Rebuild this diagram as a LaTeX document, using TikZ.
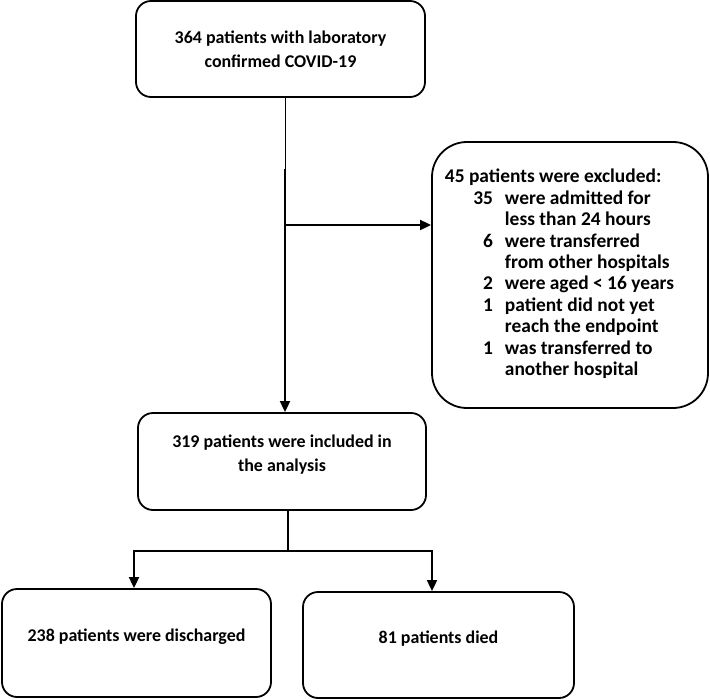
\documentclass[tikz,border=0pt]{standalone}
\usepackage{fontspec}
\setmainfont{Carlito}
\usetikzlibrary{arrows.meta}
\begin{document}
\begin{tikzpicture}[x=1bp,y=-1bp,
  box/.style={draw, line width=1.8bp, rounded corners=15bp, inner sep=0pt, align=center,
    font=\fontsize{18}{24}\selectfont\bfseries},
  conn/.style={line width=1.8bp},
  thinconn/.style={line width=1bp},
  arr/.style={conn,-{Triangle[length=11bp,width=10bp]}},
]
\useasboundingbox (0,0) rectangle (710,700);
\node[box, minimum width=289bp, minimum height=96bp] (b1) at (280.5,49)
  {364 patients with laboratory\\confirmed COVID-19};
\node[box, minimum width=288bp, minimum height=97bp, text depth=16bp] (b2) at (282,461.5)
  {319 patients were included in\\the analysis};
\node[box, rounded corners=35bp, minimum width=276bp, minimum height=266bp] (b3) at (570,275)
  {\fontsize{19.5}{21.5}\selectfont\bfseries
   \begin{tabular}{@{}r@{\hspace{12bp}}l@{}}
   \multicolumn{2}{@{}l@{}}{45 patients were excluded:}\\
   \makebox[48bp][r]{35} & were admitted for\\
    & less than 24 hours\\
   6 & were transferred\\
    & from other hospitals\\
   2 & were aged < 16 years\\
   1 & patient did not yet\\
    & reach the endpoint\\
   1 & was transferred to\\
    & another hospital
   \end{tabular}\hspace*{21bp}};
\node[box, minimum width=269bp, minimum height=108bp, text depth=16bp] (b4) at (136.5,643)
  {238 patients were discharged};
\node[box, minimum width=271bp, minimum height=106bp, text depth=16bp] (b5) at (438.5,645)
  {81 patients died};
\coordinate (m) at (285,169);
\coordinate (br) at (285,225);
\coordinate (sp) at (288,551);
\draw[thinconn] (b1.south -| m) -- (m);
\draw[arr] (m) -- (m |- b2.north);
\draw[arr] (br) -- (br -| b3.west);
\draw[conn] (b2.south -| sp) -- (sp);
\draw[arr] (sp) -| ([xshift=-2.5bp]b4.north);
\draw[arr] (sp) -| ([xshift=-6.5bp]b5.north);
\end{tikzpicture}
\end{document}
